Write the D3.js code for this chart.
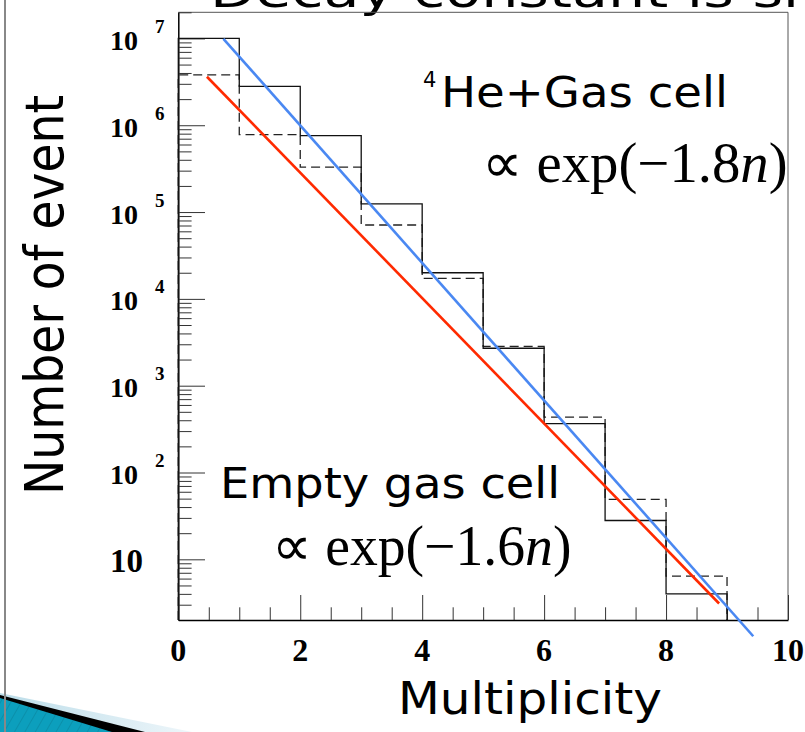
<!DOCTYPE html>
<html>
<head>
<meta charset="utf-8">
<script src="https://cdn.jsdelivr.net/npm/d3@7"></script>
<style>
  body { margin: 0; background: #fff; overflow: hidden; }
  svg { display: block; }
  .tick line { stroke: #333; }
</style>
</head>
<body>
<script>
"use strict";

// Bin edges run 0..9, one value per unit bin.
let bins = [0, 1, 2, 3, 4, 5, 6, 7, 8];
let heGasCounts = [1.0e7, 2.8e6, 7.6e5, 1.24e5, 2.0e4, 2.7e3, 366, 28, 4.0];
let emptyCellCounts = [3.8e6, 7.8e5, 3.3e5, 7.1e4, 1.72e4, 2.83e3, 435, 49, 6.4];

// Fit lines as [multiplicity, events] end points.
let heGasFit = [[0.74, 9.9e6], [9.43, 1.3]];
let emptyCellFit = [[0.47, 3.62e6], [8.87, 3.1]];

let xMajorTicks = [0, 2, 4, 6, 8, 10];
let yExponents = [1, 2, 3, 4, 5, 6, 7];

let width = 805;
let height = 732;
let sans = "'DejaVu Sans', sans-serif";
let serif = "'Liberation Serif', 'Times New Roman', serif";

let svg = d3.select("body").append("svg")
  .attr("width", width)
  .attr("height", height);

let x = d3.scaleLinear().domain([0, 10]).range([178.3, 788]);
let y = d3.scaleLog().domain([2, 2e7]).range([620, 12.3]);

// Slide decoration in the bottom left corner.
let defs = svg.append("defs");
let grad = defs.append("linearGradient").attr("id", "fade");
grad.append("stop").attr("offset", "0%").attr("stop-color", "#bcdde9");
grad.append("stop").attr("offset", "100%").attr("stop-color", "#eef6fa");
let hatch = defs.append("pattern")
  .attr("id", "hatch")
  .attr("width", 9).attr("height", 9)
  .attr("patternUnits", "userSpaceOnUse")
  .attr("patternTransform", "rotate(30)");
hatch.append("rect").attr("width", 9).attr("height", 9).attr("fill", "#0c9fbd");
hatch.append("line").attr("x1", 0).attr("y1", 0).attr("x2", 0).attr("y2", 9)
  .attr("stroke", "#0a7f98").attr("stroke-width", 1);

svg.append("path").attr("d", "M0,693 L192,732 L0,732 Z").attr("fill", "url(#fade)");
svg.append("path").attr("d", "M0,695 L145,732 L0,732 Z").attr("fill", "#000");
svg.append("path").attr("d", "M0,698 L112,732 L0,732 Z").attr("fill", "url(#hatch)");
svg.append("line")
  .attr("x1", 5).attr("x2", 5).attr("y1", 0).attr("y2", height)
  .attr("stroke", "#888").attr("stroke-width", 2);

// Slide title, mostly cut off by the top edge (as in the slide).
svg.append("text")
  .attr("x", 210).attr("y", 7)
  .attr("textLength", 759)
  .attr("lengthAdjust", "spacingAndGlyphs")
  .style("font-family", sans)
  .style("font-size", "44px")
  .text("Decay constant is smaller");

// Frame: top and right edges are thin grey.
svg.append("path")
  .attr("d", `M${x(0)},${y(2e7)} H${x(10)} V${y(2)}`)
  .attr("fill", "none")
  .attr("stroke", "#555")
  .attr("stroke-width", 1);

// Y axis: minor ticks 2..9 each decade, long ticks on the powers of ten.
let yMinor = [];
for (let d = 0; d <= 7; d++) {
  for (let m = 2; m <= 9; m++) {
    let v = m * Math.pow(10, d);
    if (v >= 2 && v <= 2e7) yMinor.push(v);
  }
}
let yMajor = yExponents.map(e => Math.pow(10, e));

svg.append("g")
  .attr("transform", `translate(${x(0)},0)`)
  .call(d3.axisLeft(y).tickValues(yMinor).tickSize(-13.3).tickFormat("").tickSizeOuter(0))
  .call(g => g.select(".domain").attr("stroke", "#000").attr("stroke-width", 1.5));
svg.append("g")
  .attr("transform", `translate(${x(0)},0)`)
  .call(d3.axisLeft(y).tickValues(yMajor).tickSize(-26.7).tickFormat("").tickSizeOuter(0))
  .call(g => g.select(".domain").remove());

// X axis: ticks every 0.5, long ones every 2.
let xMinor = d3.range(0, 10.01, 0.5).filter(v => xMajorTicks.indexOf(v) < 0);
svg.append("g")
  .attr("transform", `translate(0,${y(2)})`)
  .call(d3.axisBottom(x).tickValues(xMinor).tickSize(-12.7).tickFormat("").tickSizeOuter(0))
  .call(g => g.select(".domain").attr("stroke", "#000").attr("stroke-width", 1.5));
svg.append("g")
  .attr("transform", `translate(0,${y(2)})`)
  .call(d3.axisBottom(x).tickValues(xMajorTicks).tickSize(-25).tickFormat("").tickSizeOuter(0))
  .call(g => g.select(".domain").remove());

svg.selectAll("text.xlabel")
  .data(xMajorTicks)
  .enter()
  .append("text")
  .attr("class", "xlabel")
  .attr("x", d => x(d))
  .attr("y", 661)
  .attr("text-anchor", "middle")
  .style("font-family", serif)
  .style("font-weight", "bold")
  .style("font-size", "32px")
  .text(d => d);

// Y tick labels in the ROOT style: "10" with a raised exponent.
let yLabels = svg.selectAll("g.ylabel")
  .data(yExponents)
  .enter()
  .append("g")
  .attr("class", "ylabel")
  .style("font-family", serif)
  .style("font-weight", "bold");
yLabels.append("text")
  .attr("x", 110)
  .attr("y", d => d == 1 ? y(10) + 12.4 : y(Math.pow(10, d)) + 11.5)
  .style("font-size", d => d == 1 ? "33px" : "28px")
  .text("10");
yLabels.filter(d => d > 1).append("text")
  .attr("x", 155)
  .attr("y", d => y(Math.pow(10, d)) - 5.5)
  .style("font-size", "19px")
  .text(d => d);

// Histograms drawn as steps from the bottom edge.
function stepPoints(counts) {
  let pts = [[0, 2]];
  bins.forEach((b, i) => {
    pts.push([b, counts[i]]);
    pts.push([b + 1, counts[i]]);
  });
  pts.push([bins.length, 2]);
  return pts;
}

let line = d3.line().x(d => x(d[0])).y(d => y(d[1]));

svg.append("path")
  .attr("d", line(stepPoints(emptyCellCounts)))
  .attr("fill", "none")
  .attr("stroke", "#222")
  .attr("stroke-width", 1.3)
  .attr("stroke-dasharray", "9,5");

svg.append("path")
  .attr("d", line(stepPoints(heGasCounts)))
  .attr("fill", "none")
  .attr("stroke", "#111")
  .attr("stroke-width", 1.3);

svg.append("path")
  .attr("d", line(emptyCellFit))
  .attr("fill", "none")
  .attr("stroke", "#ff2a00")
  .attr("stroke-width", 2.6);

svg.append("path")
  .attr("d", line(heGasFit))
  .attr("fill", "none")
  .attr("stroke", "#4a88f2")
  .attr("stroke-width", 2.6);

// Annotations.
svg.append("text")
  .attr("x", 423).attr("y", 86.7)
  .style("font-family", sans)
  .style("font-size", "21px")
  .text("4");
svg.append("text")
  .attr("x", 441).attr("y", 106.7)
  .attr("textLength", 287)
  .attr("lengthAdjust", "spacingAndGlyphs")
  .style("font-family", sans)
  .style("font-size", "43.5px")
  .text("He+Gas cell");

function expLabel(xPos, yPos, rate, len) {
  let t = svg.append("text")
    .attr("x", xPos).attr("y", yPos)
    .attr("textLength", len)
    .attr("lengthAdjust", "spacingAndGlyphs")
    .style("font-family", serif)
    .style("font-size", "56px");
  t.append("tspan").text(`\u221D exp(\u2212${rate}`);
  t.append("tspan").style("font-style", "italic").text("n");
  t.append("tspan").text(")");
}
expLabel(481.7, 181.7, "1.8", 306);

svg.append("text")
  .attr("x", 220).attr("y", 498)
  .attr("textLength", 340)
  .attr("lengthAdjust", "spacingAndGlyphs")
  .style("font-family", sans)
  .style("font-size", "43.5px")
  .text("Empty gas cell");
expLabel(271.5, 565, "1.6", 300);

// Axis titles.
svg.append("text")
  .attr("x", 530).attr("y", 714)
  .attr("text-anchor", "middle")
  .attr("textLength", 264)
  .attr("lengthAdjust", "spacingAndGlyphs")
  .style("font-family", sans)
  .style("font-size", "44px")
  .text("Multiplicity");

svg.append("text")
  .attr("transform", "translate(63,295) rotate(-90)")
  .attr("text-anchor", "middle")
  .attr("textLength", 400)
  .attr("lengthAdjust", "spacingAndGlyphs")
  .style("font-family", sans)
  .style("font-size", "54px")
  .text("Number of event");
</script>
</body>
</html>
